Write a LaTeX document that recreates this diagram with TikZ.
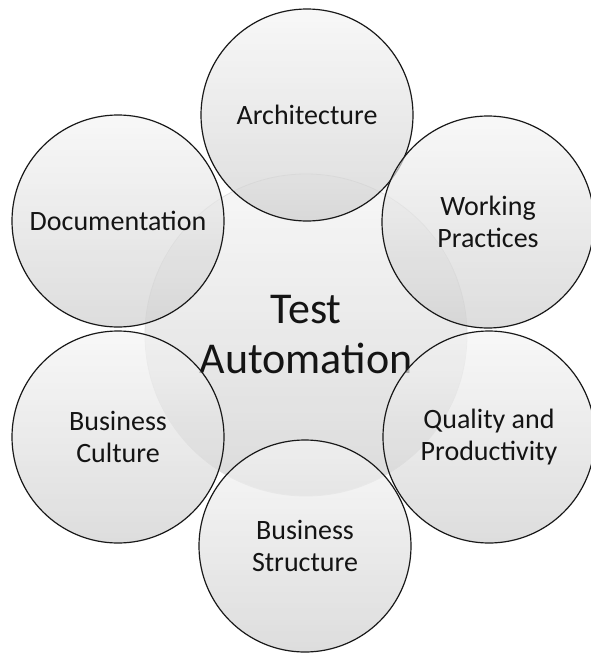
\documentclass[tikz,border=0pt]{standalone}
\usepackage{fontspec}
\setmainfont{Carlito}
\usepackage{tikz}

\begin{document}
\begin{tikzpicture}[x=1pt,y=-1pt,
  nodes = {circle,inner sep=0pt,align=center,text=black!92,text opacity=1},
  hub/.style = {minimum size=322pt,draw=black!12,line width=0.8pt,
    top color=black!4,bottom color=black!19,fill opacity=0.75,
    font=\fontsize{44}{50}\selectfont},
  bubble/.style = {minimum size=212pt,draw=black!90,line width=1.2pt,
    top color=black!4,bottom color=black!19,fill opacity=0.7,
    font=\fontsize{28}{32}\selectfont}]

\useasboundingbox (0,0) rectangle (590,654);

\node[hub] (auto) at (306,335) {Test\\Automation};

\node[bubble] (arch) at (307,115) {Architecture};
\node[bubble] (work) at (488,222) {Working\\Practices};
\node[bubble] (quality) at (489,437) {Quality and\\Productivity};
\node[bubble] (structure) at (305,546) {Business\\Structure};
\node[bubble] (culture) at (118,437) {Business\\Culture};
\node[bubble] (docs) at (118,221) {Documentation};
\end{tikzpicture}
\end{document}
